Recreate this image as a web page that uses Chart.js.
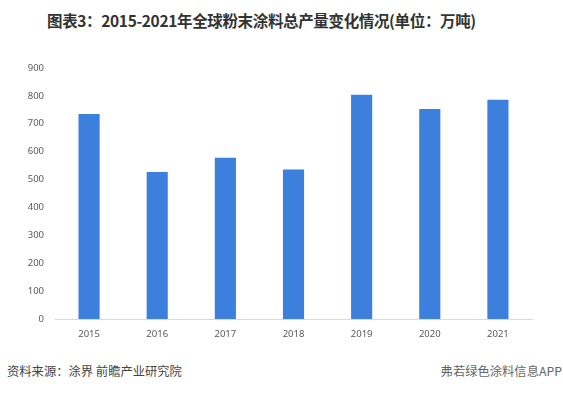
<!DOCTYPE html>
<html><head><meta charset="utf-8">
<script src="https://cdn.jsdelivr.net/npm/chart.js@4"></script>
<style>
html,body{margin:0;padding:0;background:#fff;width:563px;height:393px;overflow:hidden;font-family:"Noto Sans CJK SC","Noto Sans",sans-serif;}
#title{position:absolute;left:47px;top:9px;font-size:15.5px;font-weight:bold;color:#333;white-space:nowrap;letter-spacing:-0.35px;}
#src{position:absolute;left:7px;top:362px;font-size:12.3px;color:#444;white-space:nowrap;}
#app{position:absolute;right:1px;top:362px;font-size:12.3px;color:#666;white-space:nowrap;}
#wrap{position:absolute;left:0;top:50px;width:563px;height:300px;}
</style></head>
<body>
<div id="title">图表3：2015-2021年全球粉末涂料总产量变化情况(单位：万吨)</div>
<div id="wrap"><canvas id="c"></canvas></div>
<div id="src">资料来源：涂界 前瞻产业研究院</div>
<div id="app">弗若绿色涂料信息APP</div>
<script>
const categories = ["2015","2016","2017","2018","2019","2020","2021"];
const production = [735, 527, 578, 536, 804, 753, 786];
const yTicks = [0,100,200,300,400,500,600,700,800,900];

new Chart(document.getElementById('c'), {
  type: 'bar',
  data: { labels: categories, datasets: [{ data: production, backgroundColor: '#3d7fdc', barPercentage: 0.31, categoryPercentage: 1 }] },
  options: {
    responsive: true, maintainAspectRatio: false, animation: false,
    layout: { padding: { top: 18, right: 31, left: 0, bottom: 0 } },
    plugins: { legend: { display: false }, tooltip: { enabled: false } },
    scales: {
      x: {
        grid: { display: false, drawTicks: false },
        border: { display: true, color: '#d9d9d9', width: 1 },
        ticks: { color: '#595959', font: { size: 9.5, family: '"Noto Sans","DejaVu Sans",sans-serif' }, padding: 10 },
        afterFit: s => { s.height = 31; }
      },
      y: {
        min: 0, max: 900,
        afterBuildTicks: s => { s.ticks = yTicks.map(v => ({ value: v })); },
        grid: { display: false, drawTicks: false },
        border: { display: false },
        ticks: { color: '#595959', font: { size: 9.5, family: '"Noto Sans","DejaVu Sans",sans-serif' }, padding: 11 },
        afterFit: s => { s.width = 55; }
      }
    }
  }
});
</script>
</body></html>
